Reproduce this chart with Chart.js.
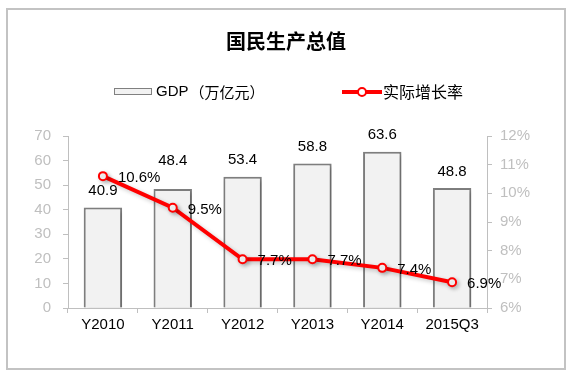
<!DOCTYPE html>
<html>
<head>
<meta charset="utf-8">
<script src="https://cdn.jsdelivr.net/npm/chart.js@4/dist/chart.umd.min.js"></script>
<style>
html,body{margin:0;padding:0;background:#fff;}
#wrap{position:relative;width:576px;height:380px;}
</style>
</head>
<body>
<div id="wrap"><canvas id="c" width="576" height="380"></canvas></div>
<script>
const categories = ["Y2010", "Y2011", "Y2012", "Y2013", "Y2014", "2015Q3"];
const gdpValues = [40.9, 48.4, 53.4, 58.8, 63.6, 48.8];
const growthValues = [10.6, 9.5, 7.7, 7.7, 7.4, 6.9];
const leftTicks = [0, 10, 20, 30, 40, 50, 60, 70];
const rightTicks = [6, 7, 8, 9, 10, 11, 12];
const titleText = "国民生产总值";
const gdpNameLatin = "GDP";
const gdpNameCjk = "（万亿元）";
const gdpName = gdpNameLatin + gdpNameCjk;
const growthName = "实际增长率";

const LATIN = '"Liberation Sans", Arial, "Noto Sans CJK SC", sans-serif';
const CJK = '"Noto Sans CJK SC", "Liberation Sans", sans-serif';

const decor = {
  id: 'decor',
  beforeDraw(chart) {
    const ctx = chart.ctx;
    ctx.save();
    ctx.fillStyle = '#fff';
    ctx.fillRect(0, 0, chart.width, chart.height);
    ctx.strokeStyle = '#c3c3c3';
    ctx.lineWidth = 2;
    ctx.strokeRect(7, 9, 558, 360);
    // title
    ctx.fillStyle = '#000';
    ctx.font = 'bold 20px ' + CJK;
    ctx.textAlign = 'center';
    ctx.textBaseline = 'middle';
    ctx.fillText(titleText, 286, 41);
    // legend: bar
    ctx.fillStyle = '#f2f2f2';
    ctx.fillRect(114.5, 88.5, 37, 6);
    ctx.strokeStyle = '#808080';
    ctx.lineWidth = 1;
    ctx.strokeRect(114.5, 88.5, 37, 6);
    ctx.fillStyle = '#000';
    ctx.textAlign = 'left';
    ctx.font = '15px ' + LATIN;
    ctx.fillText(gdpNameLatin, 156, 92);
    const w = ctx.measureText(gdpNameLatin).width;
    ctx.font = '15px ' + CJK;
    ctx.fillText(gdpNameCjk, 156 + w + 1, 92);
    // legend: line
    ctx.strokeStyle = '#ff0000';
    ctx.lineWidth = 4;
    ctx.beginPath();
    ctx.moveTo(342, 92); ctx.lineTo(382, 92);
    ctx.stroke();
    ctx.beginPath();
    ctx.arc(362, 92, 4, 0, Math.PI * 2);
    ctx.fillStyle = '#fff';
    ctx.fill();
    ctx.lineWidth = 2;
    ctx.stroke();
    ctx.fillStyle = '#000';
    ctx.font = '16px ' + CJK;
    ctx.fillText(growthName, 383, 92);
    ctx.restore();
  },
  beforeDatasetDraw(chart, args) {
    const ctx = chart.ctx;
    ctx.save();
    ctx.shadowColor = 'rgba(0,0,0,0.22)';
    ctx.shadowBlur = 4;
    ctx.shadowOffsetX = 2;
    ctx.shadowOffsetY = 2;
  },
  afterDatasetDraw(chart) {
    chart.ctx.restore();
  },
  afterDatasetsDraw(chart, args, opts) {
    const ctx = chart.ctx;
    ctx.save();
    ctx.fillStyle = '#000';
    ctx.font = '15px ' + LATIN;
    ctx.textBaseline = 'middle';
    const barMeta = chart.getDatasetMeta(1);
    ctx.textAlign = 'center';
    barMeta.data.forEach((el, i) => {
      const off = (opts.barLabelLift || [])[i] || 16.5;
      ctx.fillText(gdpValues[i].toFixed(1), el.x, el.y - off);
    });
    const lineMeta = chart.getDatasetMeta(0);
    ctx.textAlign = 'left';
    lineMeta.data.forEach((el, i) => {
      ctx.fillText(growthValues[i].toFixed(1) + '%', el.x + 15, el.y + 2);
    });
    ctx.restore();
  }
};

new Chart(document.getElementById('c'), {
  data: {
    labels: categories,
    datasets: [
      {
        type: 'line',
        label: growthName,
        data: growthValues,
        yAxisID: 'y1',
        borderColor: '#ff0000',
        borderWidth: 4,
        pointRadius: 4,
        pointBorderWidth: 2,
        pointBackgroundColor: '#ffffff',
        pointBorderColor: '#ff0000',
        tension: 0,
        order: 0
      },
      {
        type: 'bar',
        label: gdpName,
        data: gdpValues,
        yAxisID: 'y',
        backgroundColor: '#f2f2f2',
        borderColor: '#7f7f7f',
        borderWidth: 2,
        barPercentage: 0.55,
        categoryPercentage: 1,
        order: 1
      }
    ]
  },
  plugins: [decor],
  options: {
    responsive: false,
    animation: false,
    layout: { padding: { top: 136, left: 0, right: 0, bottom: 0 } },
    plugins: {
      legend: { display: false },
      title: { display: false },
      tooltip: { enabled: false },
      decor: { barLabelLift: [16.5, 28, 16.5, 16.5, 16.5, 16.5] }
    },
    scales: {
      x: {
        type: 'category',
        offset: true,
        grid: { display: true, drawOnChartArea: false, offset: true, tickLength: 5, color: '#bfbfbf' },
        border: { display: true, color: '#bfbfbf', width: 1 },
        ticks: { color: '#000', font: { size: 15, family: LATIN }, padding: 3, maxRotation: 0 },
        afterFit(s) { s.height = 72; }
      },
      y: {
        position: 'left',
        min: 0, max: 70,
        afterBuildTicks(s) { s.ticks = leftTicks.map(v => ({ value: v })); },
        grid: { display: true, drawOnChartArea: false, tickLength: 5, color: '#bfbfbf' },
        border: { display: true, color: '#bfbfbf', width: 1 },
        ticks: { color: '#bfbfbf', font: { size: 15, family: LATIN }, padding: 12 },
        afterFit(s) { s.width = 68; }
      },
      y1: {
        position: 'right',
        min: 6, max: 12,
        afterBuildTicks(s) { s.ticks = rightTicks.map(v => ({ value: v })); },
        grid: { display: true, drawOnChartArea: false, tickLength: 5, color: '#bfbfbf' },
        border: { display: true, color: '#bfbfbf', width: 1 },
        ticks: { color: '#bfbfbf', font: { size: 15, family: LATIN }, padding: 8, callback: v => v + '%' },
        afterFit(s) { s.width = 89; }
      }
    }
  }
});
</script>
</body>
</html>
